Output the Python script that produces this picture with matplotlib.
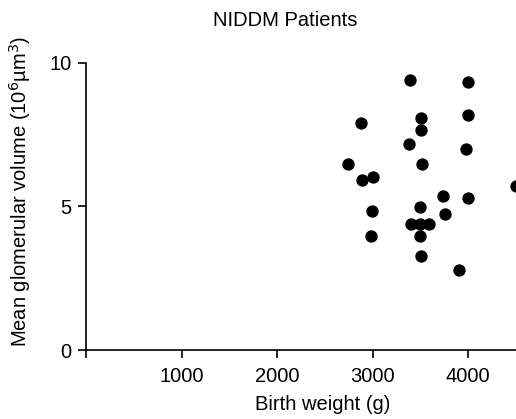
import matplotlib
matplotlib.use("Agg")
import matplotlib.pyplot as plt

plt.rcParams['font.family'] = ['Liberation Sans', 'DejaVu Sans']

# Birth weight (g) vs mean glomerular volume (10^6 um^3)
birth_weight = [3386, 3994, 2875, 3504, 3501, 3994, 3375, 3973, 2743, 3519,
                2886, 3008, 4497, 3735, 4001, 2998, 3497, 3760, 3400, 3494,
                3588, 2980, 3491, 3504, 3903]
glom_volume = [9.41, 9.34, 7.92, 8.08, 7.66, 8.18, 7.17, 6.99, 6.47, 6.47,
               5.94, 6.02, 5.70, 5.36, 5.31, 4.86, 4.98, 4.74, 4.39, 4.39,
               4.39, 3.98, 3.98, 3.28, 2.78]

x_ticks = [0, 1000, 2000, 3000, 4000]
x_ticklabels = ['', '1000', '2000', '3000', '4000']
y_ticks = [0, 5, 10]

fs = 14.5
fig = plt.figure(figsize=(5.16, 4.19), dpi=100)
ax = fig.add_axes([86 / 516, 69 / 419, 430 / 516, 287 / 419])

ax.scatter(birth_weight, glom_volume, s=62, color='black', clip_on=False, zorder=3)

ax.set_xlim(0, 4500)
ax.set_ylim(0, 10)
ax.set_xticks(x_ticks)
ax.set_xticklabels(x_ticklabels)
ax.set_yticks(y_ticks)

for side in ['top', 'right']:
    ax.spines[side].set_visible(False)
for side in ['left', 'bottom']:
    ax.spines[side].set_linewidth(1.2)
ax.tick_params(axis='both', length=6, width=1.2, labelsize=fs)
ax.tick_params(axis='x', pad=6.5)
ax.tick_params(axis='y', pad=4.5)

fig.text(285 / 516, 1 - 26 / 419, 'NIDDM Patients', fontsize=fs,
         ha='center', va='baseline')
ax.set_xlabel('Birth weight (g)', fontsize=fs)
ax.xaxis.set_label_coords(0.551, -0.157)
ax.set_ylabel('Mean glomerular volume (10$^6$µm$^3$)', fontsize=fs)
ax.yaxis.set_label_coords(-0.123, 0.552)

fig.savefig('out.png', dpi=100)
